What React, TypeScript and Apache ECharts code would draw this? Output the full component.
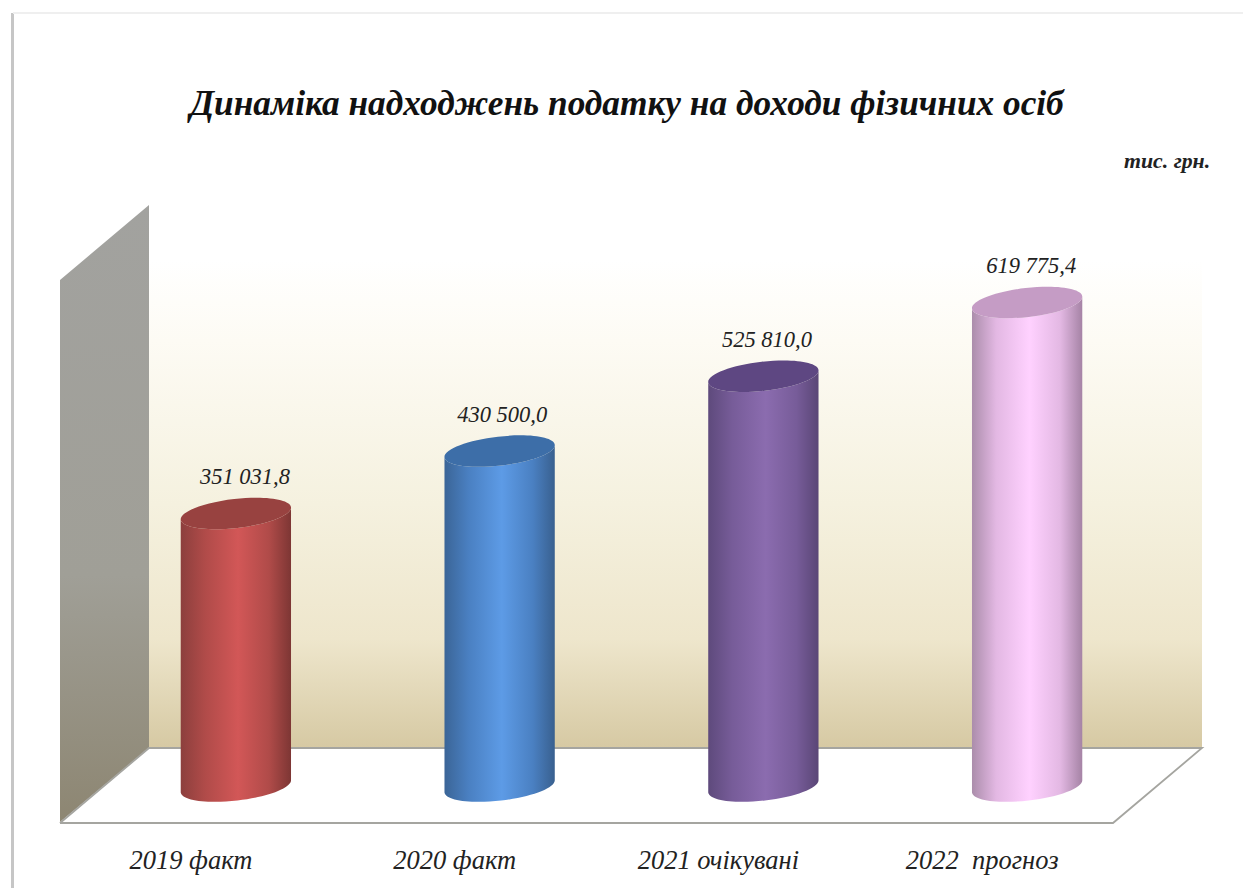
import React, { useEffect, useRef } from "react";
import * as echarts from "echarts";

const categories = ["2019 факт", "2020 факт", "2021 очікувані", "2022  прогноз"];
const values = [351031.8, 430500.0, 525810.0, 619775.4];
const valueLabels = ["351 031,8", "430 500,0", "525 810,0", "619 775,4"];
const bodyEdgeLeft = ["#8c3f3d", "#3b6597", "#5e4a7c", "#ab8dab"];
const bodyMid = ["#b04b49", "#4a80c2", "#775c99", "#e3b8e3"];
const bodyLight = ["#d25757", "#5d9be6", "#8b6caf", "#ffd1ff"];
const bodyEdgeRight = ["#7d3634", "#39608f", "#5a4676", "#a583a5"];
const topColors = ["#984240", "#3d6ea8", "#5e4782", "#c59cc5"];
const labelShift = [9, 2.5, 3.5, 4];
const titleText = "Динаміка надходжень податку на доходи фізичних осіб";
const unitText = "тис. грн.";
const FONT = '"Liberation Serif", serif';

const RX = 55.5;
const RY = 14.5;
const ANGLE = (-6.5 * Math.PI) / 180;
const K = 0.5523;

// Half of a tilted ellipse as two cubic curves, from left end to right end.
// side = 1 is the lower half, side = -1 the upper half.
function halfEllipse(cx: number, cy: number, side: number, reverse: boolean) {
  const p = (u: number, v: number) =>
    `${cx + u * Math.cos(ANGLE) - v * Math.sin(ANGLE)} ${cy + u * Math.sin(ANGLE) + v * Math.cos(ANGLE)}`;
  const s = side * RY;
  if (!reverse) {
    return (
      `C ${p(-RX, K * s)} ${p(-K * RX, s)} ${p(0, s)} ` +
      `C ${p(K * RX, s)} ${p(RX, K * s)} ${p(RX, 0)}`
    );
  }
  return (
    `C ${p(RX, K * s)} ${p(K * RX, s)} ${p(0, s)} ` +
    `C ${p(-K * RX, s)} ${p(-RX, K * s)} ${p(-RX, 0)}`
  );
}

function renderItem(params: any, api: any) {
  const i = api.value(0);
  const top = api.coord([i, api.value(1)]);
  const base = api.coord([i, 0]);
  const cx = top[0];
  const ty = top[1] - 1.5;
  const by = base[1] - 4.5;
  const dx = RX * Math.cos(ANGLE);
  const dy = RX * Math.sin(ANGLE);
  const body =
    `M ${cx - dx} ${ty - dy} L ${cx - dx} ${by - dy} ` +
    halfEllipse(cx, by, 1, false) +
    ` L ${cx + dx} ${ty + dy} ` +
    halfEllipse(cx, ty, 1, true) +
    " Z";
  const cap =
    `M ${cx - dx} ${ty - dy} ` +
    halfEllipse(cx, ty, -1, false) +
    " " +
    halfEllipse(cx, ty, 1, true) +
    " Z";
  return {
    type: "group",
    children: [
      {
        type: "path",
        shape: { pathData: body },
        style: {
          fill: new echarts.graphic.LinearGradient(0, 0, 1, 0, [
            { offset: 0, color: bodyEdgeLeft[i] },
            { offset: 0.22, color: bodyMid[i] },
            { offset: 0.52, color: bodyLight[i] },
            { offset: 0.8, color: bodyMid[i] },
            { offset: 1, color: bodyEdgeRight[i] },
          ]),
        },
      },
      {
        type: "path",
        shape: { pathData: cap },
        style: { fill: topColors[i] },
      },
      {
        type: "text",
        x: cx + labelShift[i],
        y: top[1] - 38,
        style: {
          text: valueLabels[i],
          font: `italic 22.5px ${FONT}`,
          fill: "#222222",
          align: "center",
          verticalAlign: "middle",
        },
      },
    ],
  };
}

export default function App() {
  const ref = useRef<HTMLDivElement>(null);
  useEffect(() => {
    const chart = echarts.init(ref.current!, undefined, { renderer: "svg" });
    chart.setOption({
      animation: false,
      backgroundColor: "#ffffff",
      title: {
        text: titleText,
        left: 185,
        top: 81,
        textStyle: {
          fontFamily: FONT,
          fontStyle: "italic",
          fontWeight: "bold",
          fontSize: 35.3,
          color: "#111111",
        },
      },
      grid: { left: 104, width: 1055, top: 241, bottom: 97.4 },
      xAxis: {
        type: "category",
        data: categories,
        axisLine: { show: false },
        axisTick: { show: false },
        axisLabel: {
          margin: 56,
          padding: [0, 90, 0, 0],
          fontFamily: FONT,
          fontStyle: "italic",
          fontSize: 26.5,
          color: "#222222",
        },
      },
      yAxis: { type: "value", min: 0, max: 700000, show: false, splitLine: { show: false } },
      graphic: [
        { type: "line", z: -5, shape: { x1: 12.5, y1: 13, x2: 12.5, y2: 888 }, style: { stroke: "#c6c6c6", lineWidth: 3 } },
        { type: "line", z: -5, shape: { x1: 13, y1: 13, x2: 1243, y2: 13 }, style: { stroke: "#efefef", lineWidth: 2 } },
        {
          type: "rect",
          z: -4,
          shape: { x: 149, y: 205, width: 1053, height: 543 },
          style: {
            fill: new echarts.graphic.LinearGradient(0, 0, 0, 1, [
              { offset: 0, color: "#ffffff" },
              { offset: 0.1, color: "#ffffff" },
              { offset: 0.25, color: "#fdfbf4" },
              { offset: 0.55, color: "#f5f1df" },
              { offset: 0.8, color: "#eee6cc" },
              { offset: 1, color: "#d6c9a3" },
            ]),
          },
        },
        {
          type: "polygon",
          z: -3,
          shape: { points: [[60, 280], [149, 205], [149, 748], [60, 822]] },
          style: {
            fill: new echarts.graphic.LinearGradient(0, 0, 0, 1, [
              { offset: 0, color: "#a2a29f" },
              { offset: 0.6, color: "#a09f97" },
              { offset: 1, color: "#8d8672" },
            ]),
          },
        },
        {
          type: "polygon",
          z: -3,
          shape: { points: [[149, 748], [1202, 748], [1113, 823], [60, 823]] },
          style: { fill: "#ffffff" },
        },
        {
          type: "polyline",
          z: -2,
          shape: { points: [[60, 823], [1113, 823], [1202, 748], [149, 748], [60, 823]] },
          style: { stroke: "#a5a5a0", lineWidth: 1.8, fill: "none" },
        },
        {
          type: "text",
          z: 5,
          x: 1124,
          y: 150,
          style: {
            text: unitText,
            font: `italic bold 21.8px ${FONT}`,
            fill: "#222222",
          },
        },
      ],
      series: [
        {
          type: "custom",
          renderItem,
          data: values.map((v, i) => [i, v]),
          encode: { x: 0, y: 1 },
          clip: false,
        },
      ],
    });
    return () => chart.dispose();
  }, []);
  return (
    <div
      ref={ref}
      style={{ position: "fixed", left: 0, top: 0, width: 1243, height: 888 }}
    />
  );
}
